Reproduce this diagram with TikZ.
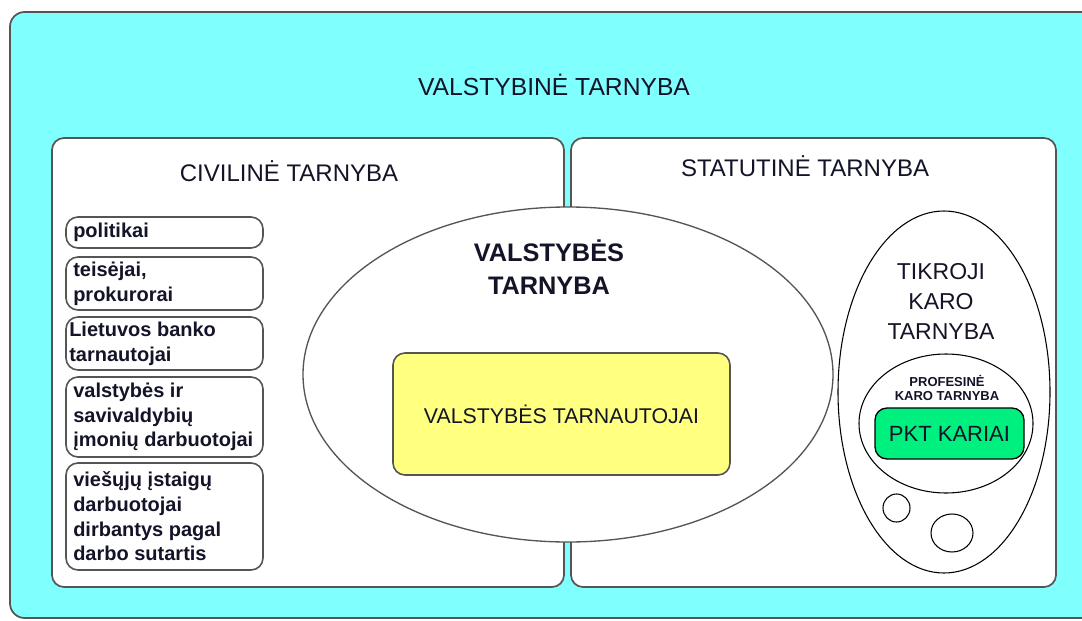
\documentclass[tikz,border=0pt]{standalone}
\usepackage{fontspec}
\setmainfont{Liberation Sans}
\usetikzlibrary{shapes.geometric}
\definecolor{cyanbg}{RGB}{128,255,255}
\definecolor{yel}{RGB}{255,255,128}
\definecolor{grn}{RGB}{0,240,128}
\definecolor{edgegray}{RGB}{85,85,85}
\definecolor{txt}{RGB}{20,20,40}
\tikzset{
  outerbox/.style={draw=edgegray, fill=cyanbg, line width=1.3pt, rounded corners=11pt, inner sep=0pt},
  panel/.style={draw=edgegray, fill=white, line width=1.3pt, rounded corners=9pt, inner sep=0pt},
  sbox/.style={draw=edgegray, fill=white, line width=1.2pt, rounded corners=9pt, inner sep=0pt, minimum width=147.75pt},
  stext/.style={anchor=west, align=left, inner sep=0pt, font=\fontsize{15}{18.5}\selectfont\bfseries, text=txt},
  head/.style={anchor=base, inner sep=0pt, font=\fontsize{18}{22}\selectfont, text=txt},
  oval/.style={ellipse, draw=black, line width=0.8pt, inner sep=0pt, fill=white},
}
\begin{document}
\begin{tikzpicture}[x=0.75pt,y=-0.75pt]
\useasboundingbox (0,0) rectangle (1082,621);
\clip (0,0) rectangle (1082,621);
% outer frame
\node[outerbox, minimum width=817.5pt, minimum height=454.5pt] (outer) at (555,315) {};
\node[head, font=\fontsize{18.5}{22}\selectfont] (title) at (554,95) {VALSTYBINĖ TARNYBA};
% panels
\node[panel, minimum width=384pt, minimum height=336.75pt] (civ) at (308,362.5) {};
\node[panel, minimum width=363.75pt, minimum height=336.75pt] (stat) at (813.5,362.5) {};
\node[head] (civt) at (289,181) {CIVILINĖ TARNYBA};
\node[head] (statt) at (805,176) {STATUTINĖ TARNYBA};
% central ellipse
\node[oval, draw=edgegray, line width=1pt, minimum width=397.5pt, minimum height=251.25pt] (vt) at (568,374.5) {};
\node[align=center, inner sep=0pt, font=\fontsize{19}{24.75}\selectfont\bfseries, text=txt] (vtt) at (549,267.5) {VALSTYBĖS\\TARNYBA};
\node[draw=edgegray, fill=yel, line width=1.2pt, rounded corners=9pt, minimum width=252.75pt, minimum height=91.5pt, inner sep=0pt, font=\fontsize{16}{19}\selectfont, text=txt] (vta) at (561.5,414) {VALSTYBĖS TARNAUTOJAI};
% small boxes
\node[sbox, minimum height=23.25pt] (b1) at (164.5,232.5) {};
\node[sbox, minimum height=39.75pt] (b2) at (164.5,283.5) {};
\node[sbox, minimum height=39.75pt] (b3) at (164.5,343.5) {};
\node[sbox, minimum height=60pt] (b4) at (164.5,417) {};
\node[sbox, minimum height=80.25pt] (b5) at (164.5,516.5) {};
\node[stext] (t1) at (73,232.5) {politikai};
\node[stext] (t2) at (73,283.5) {teisėjai,\\prokurorai};
\node[stext] (t3) at (69,343.5) {Lietuvos banko\\tarnautojai};
\node[stext] (t4) at (73,417) {valstybės ir\\savivaldybių\\įmonių darbuotojai};
\node[stext] (t5) at (73,516.5) {viešųjų įstaigų\\darbuotojai\\dirbantys pagal\\darbo sutartis};
% right ellipse
\node[oval, minimum width=159pt, minimum height=271.5pt] (tk) at (944,392) {};
\node[align=center, inner sep=0pt, font=\fontsize{17.25}{22.5}\selectfont, text=txt] (tkt) at (941,301.7) {TIKROJI\\KARO\\TARNYBA};
\node[oval, minimum width=130.5pt, minimum height=104.25pt] (pk) at (946,423.5) {};
\node[align=center, inner sep=0pt, font=\fontsize{9.75}{10.5}\selectfont\bfseries, text=txt] (pkt) at (947,388.4) {PROFESINĖ\\KARO TARNYBA};
\node[draw=black, fill=grn, line width=1pt, rounded corners=9pt, minimum width=111.75pt, minimum height=38.25pt, inner sep=0pt, font=\fontsize{16.5}{19}\selectfont, text=txt] (pkk) at (949.5,433.5) {PKT KARIAI};
\node[oval, minimum width=20.25pt, minimum height=21pt] (c1) at (896.5,508) {};
\node[oval, minimum width=31.5pt, minimum height=28.5pt] (c2) at (952,533) {};
\end{tikzpicture}
\end{document}
